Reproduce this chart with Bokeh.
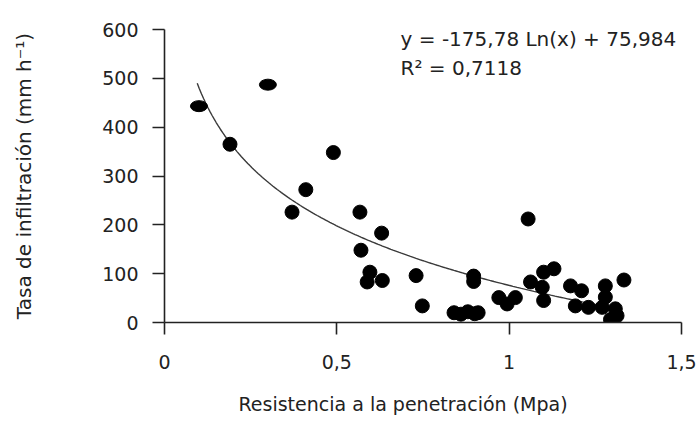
import numpy as np
from bokeh.plotting import figure
from bokeh.models import Range1d, FixedTicker, Label, Title
from bokeh.embed import file_html
from bokeh.resources import INLINE

# ---- data ----
resistencia = [0.19, 0.49, 0.41, 0.37, 0.567, 0.63, 0.57, 0.596, 0.588, 0.632,
               0.73, 0.748, 0.84, 0.86, 0.88, 0.90, 0.91, 0.897, 0.897,
               0.97, 0.994, 1.018, 1.055, 1.062, 1.10, 1.13, 1.096, 1.10,
               1.178, 1.21, 1.192, 1.23, 1.279, 1.279, 1.27, 1.308, 1.294,
               1.333, 1.313]
infiltracion = [365, 348, 272, 226, 226, 183, 148, 103, 83, 86,
                96, 34, 20, 17, 22, 18, 20, 95, 84,
                51, 38, 51, 212, 83, 103, 110, 72, 45,
                75, 65, 34, 31, 75, 52, 31, 28, 6,
                87, 14]
# blobs that appear as wide ellipses
resistencia_ancho = [0.10, 0.30]
infiltracion_ancho = [443, 487]

x_ticks = [0, 0.5, 1, 1.5]
x_tick_labels = ["0", "0,5", "1", "1,5"]
y_ticks = [0, 100, 200, 300, 400, 500, 600]

coef_a = -175.78
coef_b = 75.984
fit_start, fit_end = 0.095, 1.31
eq_text = "y = -175,78 Ln(x) + 75,984"
r2_text = "R² = 0,7118"
x_title = "Resistencia a la penetración (Mpa)"
y_title = "Tasa de infiltración (mm h⁻¹)"

FONT = "DejaVu Sans"
TXT = "#222222"

p = figure(frame_width=517, frame_height=293,
           min_border_left=164, min_border_right=19,
           min_border_top=29, min_border_bottom=118,
           x_range=Range1d(0, 1.5), y_range=Range1d(0, 600),
           output_backend="svg", toolbar_location=None)
p.xgrid.visible = False
p.ygrid.visible = False
p.outline_line_color = None
p.background_fill_color = "white"
p.border_fill_color = "white"

for ax in (p.xaxis[0], p.yaxis[0]):
    ax.axis_line_color = TXT
    ax.axis_line_width = 1.6
    ax.major_tick_line_color = TXT
    ax.major_tick_line_width = 1.6
    ax.minor_tick_line_color = None
    ax.major_tick_in = 0
    ax.major_tick_out = 12
    ax.major_label_text_font = FONT
    ax.major_label_text_font_size = "19px"
    ax.major_label_text_color = TXT
    ax.axis_label_text_font = FONT
    ax.axis_label_text_font_style = "normal"
    ax.axis_label_text_color = TXT

p.xaxis.ticker = FixedTicker(ticks=x_ticks)
p.xaxis.major_label_overrides = {t: l for t, l in zip(x_ticks, x_tick_labels)}
p.yaxis.ticker = FixedTicker(ticks=y_ticks)
p.xaxis.major_label_standoff = 20
p.yaxis.major_label_standoff = 14
p.yaxis.axis_label = y_title
p.yaxis.axis_label_text_font_size = "20px"
p.yaxis.axis_label_standoff = 63

# x-axis title, placed like the reference (slightly left of centre)
p.add_layout(Title(text=x_title, align="left", offset=74, standoff=39,
                   text_font=FONT, text_font_size="19px",
                   text_font_style="normal", text_color=TXT), "below")

# trend line from the displayed regression equation
fx = np.linspace(fit_start, fit_end, 200)
fy = coef_a * np.log(fx) + coef_b
p.line(fx, fy, line_color="#3a3a3a", line_width=1.4)

p.scatter(resistencia, infiltracion, size=14, color="black")
p.ellipse(x=resistencia_ancho, y=infiltracion_ancho, width=17, height=11,
          width_units="screen", height_units="screen", color="black")

p.add_layout(Label(x=0.685, y=580, text=eq_text, text_font=FONT,
                   text_font_size="20px", text_color=TXT,
                   text_baseline="alphabetic"))
p.add_layout(Label(x=0.685, y=522, text=r2_text, text_font=FONT,
                   text_font_size="20px", text_color=TXT,
                   text_baseline="alphabetic"))

open("out.html", "w").write(file_html(p, INLINE))
